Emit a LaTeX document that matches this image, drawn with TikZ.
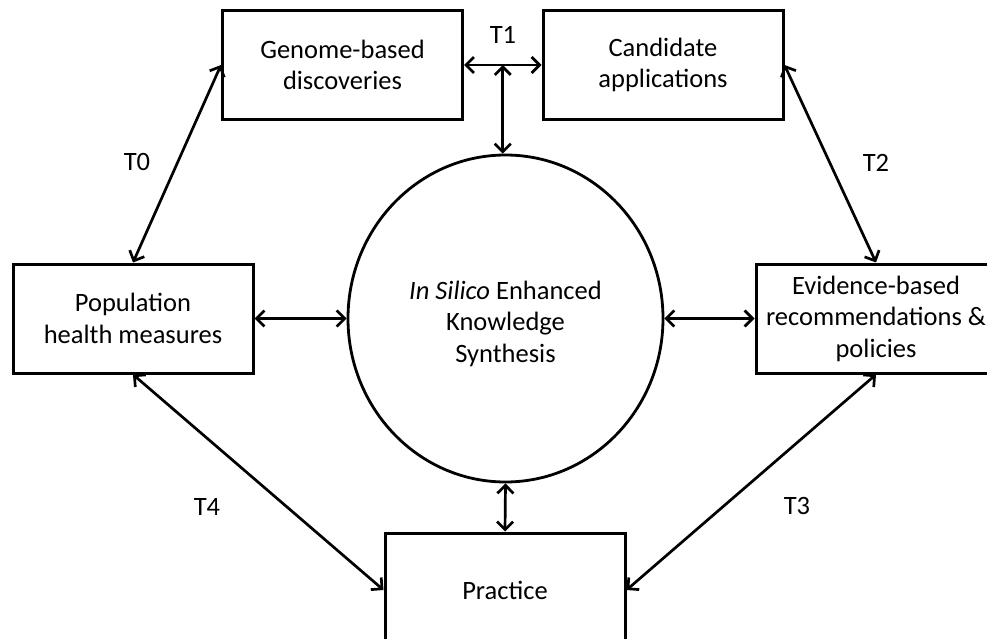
\documentclass[tikz,border=0pt]{standalone}
\usepackage{fontspec}
\setmainfont{Carlito}
\usetikzlibrary{arrows.meta,shapes.geometric}
\begin{document}
\begin{tikzpicture}[x=1pt,y=-1pt,
	every node/.style={font=\fontsize{26.5}{31.5}\selectfont},
	box/.style={rectangle,draw=black,line width=3pt,minimum width=240pt,minimum height=109pt,align=center,inner sep=0pt},
	link/.style={{Straight Barb[length=8pt,width=16pt]}-{Straight Barb[length=8pt,width=16pt]},line width=2.7pt},
	tlabel/.style={inner sep=0pt}]
	\useasboundingbox (0,0) rectangle (987,639);
	\clip (0,0) rectangle (987,639);
	\fill[white] (0,0) rectangle (987,639);
	% boxes
	\node[box](genome) at (342.5,65) {Genome-based\\discoveries};
	\node[box](cand) at (663,65) {Candidate\\applications};
	\node[box](pop) at (133,318.5) {Population\\health measures};
	\node[box](evid) at (876,318.5) {Evidence-based\\recommendations \&\\policies};
	\node[box,minimum height=114pt](practice) at (505,590) {Practice};
	% centre
	\node[ellipse,draw=black,line width=2.8pt,minimum width=315pt,minimum height=327pt,inner sep=0pt](isk) at (505.5,318.5) {};
	\node[align=center](isktext) at ([yshift=-5pt]isk.center) {\textit{In Silico} Enhanced\\Knowledge\\Synthesis};
	% connectors
	\draw[link] (genome.east) -- (cand.west) coordinate[midway](t1mid);
	\draw[link] (t1mid) -- (t1mid |- isk.north);
	\draw[link] (genome.west) -- (pop.north);
	\draw[link] (cand.east) -- (evid.north);
	\draw[link] (pop.east) -- (isk.west);
	\draw[link] (isk.east) -- (evid.west);
	\draw[link] (isk.south) -- (practice.north);
	\draw[link] (pop.south) -- (practice.west);
	\draw[link] (evid.south) -- (practice.east);
	% labels
	\node[tlabel](t0) at (137,162) {T0};
	\node[tlabel](t1) at (503,35) {T1};
	\node[tlabel](t2) at (876,163) {T2};
	\node[tlabel](t3) at (797,506) {T3};
	\node[tlabel](t4) at (207,507) {T4};
\end{tikzpicture}
\end{document}
